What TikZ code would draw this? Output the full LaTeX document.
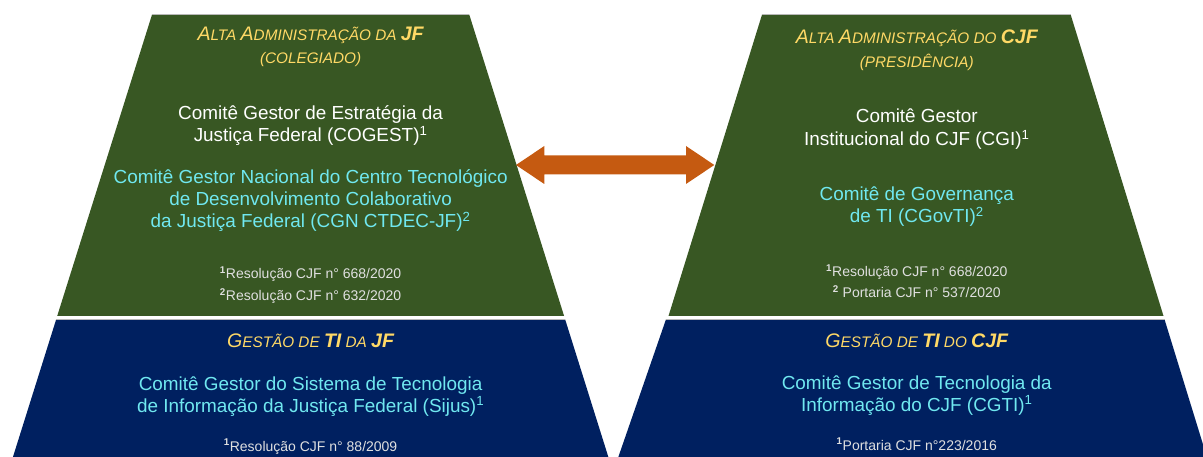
\documentclass[tikz,border=0pt]{standalone}
\usepackage{fontspec}
\setmainfont{Liberation Sans}
\usetikzlibrary{calc}
\definecolor{jfgreen}{HTML}{385723}
\definecolor{jfblue}{HTML}{002060}
\definecolor{arrowor}{HTML}{C55A11}
\definecolor{gold}{HTML}{FFD966}
\definecolor{lcyan}{HTML}{70E8F0}
\definecolor{fnote}{HTML}{E0E0E0}
\definecolor{edgegray}{HTML}{B8B8B8}
\newcommand{\tbig}[1]{{\fontsize{19.6}{22}\selectfont #1}}
\newcommand{\tsml}[1]{{\fontsize{15.3}{22}\selectfont #1}}
\newcommand{\fsup}[1]{\textsuperscript{\bfseries #1}}
\begin{document}
\begin{tikzpicture}[x=1pt,y=-1pt,
  titletxt/.style={anchor=base,text=gold,font=\itshape,inner sep=0},
  maintxt/.style={anchor=base,text=white,font=\fontsize{18.9}{22}\selectfont,inner sep=0},
  cyantxt/.style={maintxt,text=lcyan},
  fntxt/.style={anchor=base,text=fnote,font=\fontsize{14}{16}\selectfont,inner sep=0},
  topedge/.style={draw=edgegray,line width=0.8pt}
]
\useasboundingbox (0,0) rectangle (1203,457);

% left trapezoid
\fill[jfgreen] (152,14.7) -- (469.3,14.7) -- (564.1,316) -- (57.2,316) -- cycle;
\fill[jfblue] (56.2,319.3) -- (565.1,319.3) -- (609.3,460) -- (12.0,460) -- cycle;
\draw[topedge] (152,14.7) -- (469.3,14.7);
\draw[topedge] (56.2,319.3) -- (565.1,319.3);

% right trapezoid
\fill[jfgreen] (762,14.7) -- (1070.7,14.7) -- (1163.5,316) -- (668.5,316) -- cycle;
\fill[jfblue] (666,319.3) -- (1164.5,319.3) -- (1207.8,460) -- (617.3,460) -- cycle;
\draw[topedge] (762,14.7) -- (1070.7,14.7);
\draw[topedge] (666,319.3) -- (1164.5,319.3);

% double arrow
\coordinate (arrL) at (516,165);
\coordinate (arrR) at (714.3,165);
\fill[arrowor] (arrL) -- ($(arrL)+(28.3,-19)$) -- ($(arrL)+(28.3,-9.5)$)
  -- ($(arrR)+(-28.3,-9.5)$) -- ($(arrR)+(-28.3,-19)$) -- (arrR)
  -- ($(arrR)+(-28.3,19)$) -- ($(arrR)+(-28.3,9.5)$)
  -- ($(arrL)+(28.3,9.5)$) -- ($(arrL)+(28.3,19)$) -- cycle;

% ---- left texts
\node[titletxt] (lt1) at (310.6,41) {\tbig{A}\tsml{LTA }\tbig{A}\tsml{DMINISTRAÇÃO DA }\tbig{\bfseries JF}};
\node[titletxt] (lt2) at (310.6,64) {\tsml{(COLEGIADO)}};
\node[maintxt] (lw1) at (310.6,120) {Comitê Gestor de Estratégia da};
\node[maintxt] (lw2) at (310.6,142) {Justiça Federal (COGEST)\textsuperscript{1}};
\node[cyantxt] (lc1) at (310.6,184) {Comitê Gestor Nacional do Centro Tecnológico};
\node[cyantxt] (lc2) at (310.6,206) {de Desenvolvimento Colaborativo};
\node[cyantxt] (lc3) at (310.6,228) {da Justiça Federal (CGN CTDEC-JF)\textsuperscript{2}};
\node[fntxt] (lf1) at (310.6,279) {\fsup{1}Resolução CJF n° 668/2020};
\node[fntxt] (lf2) at (310.6,301) {\fsup{2}Resolução CJF n° 632/2020};
\node[titletxt] (lg1) at (310.6,347) {\tbig{G}\tsml{ESTÃO DE }\tbig{\bfseries TI}\tsml{ DA }\tbig{\bfseries JF}};
\node[cyantxt] (lb1) at (310.6,390) {Comitê Gestor do Sistema de Tecnologia};
\node[cyantxt] (lb2) at (310.6,412) {de Informação da Justiça Federal (Sijus)\textsuperscript{1}};
\node[fntxt] (lbf) at (310.6,451) {\fsup{1}Resolução CJF n° 88/2009};

% ---- right texts
\node[titletxt] (rt1) at (916.8,44) {\tbig{A}\tsml{LTA }\tbig{A}\tsml{DMINISTRAÇÃO DO }\tbig{\bfseries CJF}};
\node[titletxt] (rt2) at (916.8,68) {\tsml{(PRESIDÊNCIA)}};
\node[maintxt] (rw1) at (916.8,123) {Comitê Gestor};
\node[maintxt] (rw2) at (916.8,146) {Institucional do CJF (CGI)\textsuperscript{1}};
\node[cyantxt] (rc1) at (916.8,201) {Comitê de Governança};
\node[cyantxt] (rc2) at (916.8,223) {de TI (CGovTI)\textsuperscript{2}};
\node[fntxt] (rf1) at (916.8,277) {\fsup{1}Resolução CJF n° 668/2020};
\node[fntxt] (rf2) at (916.8,298) {\fsup{2} Portaria CJF n° 537/2020};
\node[titletxt] (rg1) at (916.8,347) {\tbig{G}\tsml{ESTÃO DE }\tbig{\bfseries TI}\tsml{ DO }\tbig{\bfseries CJF}};
\node[cyantxt] (rb1) at (916.8,389) {Comitê Gestor de Tecnologia da};
\node[cyantxt] (rb2) at (916.8,411) {Informação do CJF (CGTI)\textsuperscript{1}};
\node[fntxt] (rbf) at (916.8,450) {\fsup{1}Portaria CJF n°223/2016};
\end{tikzpicture}
\end{document}
